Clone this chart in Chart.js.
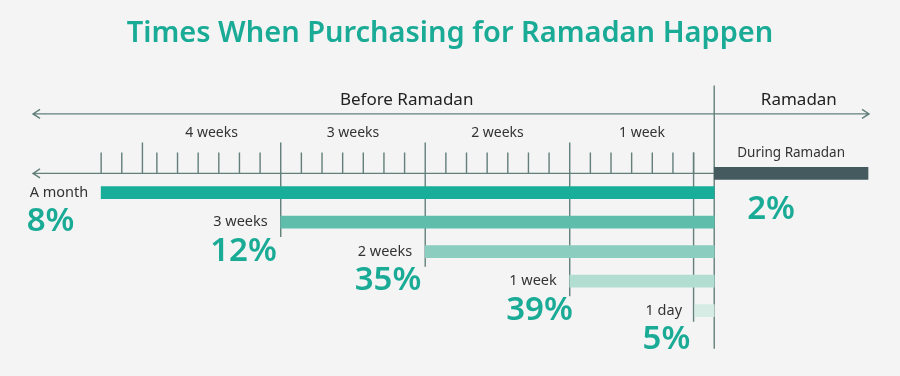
<!DOCTYPE html>
<html>
<head>
<meta charset="utf-8">
<script src="https://cdn.jsdelivr.net/npm/chart.js@4"></script>
<style>
  body { margin: 0; background: #f4f4f4; }
  #wrap { width: 900px; height: 376px; }
</style>
</head>
<body>
<div id="wrap"><canvas id="myChart"></canvas></div>
<script>
// days relative to the start of Ramadan (0), negative = before
const rowLabels = ['A month', '3 weeks', '2 weeks', '1 week', '1 day'];
const startDays = [-29.7, -21, -14, -7, -0.93];
const endDays = [0, 0, 0, 0, 0];
const shares = [8, 12, 35, 39, 5];
const rows = [0, 1, 2, 3, 4];

const ramadanLabel = 'During Ramadan';
const ramadanSpan = [0, 7.45];
const ramadanShare = 2;
const ramadanRow = -0.65;

const weekLabels = ['4 weeks', '3 weeks', '2 weeks', '1 week'];
const weekBounds = [-27.7, -21, -14, -7, 0];
const dayTicks = [-29.7, -28.7, -27, -26, -25, -24, -23, -22, -20, -19, -18, -17, -16, -15,
  -13, -12, -11, -10, -9, -8, -6, -5, -4, -3, -2, -1];

const barColors = ['#19ae99', '#5fbdab', '#8bcdbf', '#b2ddd1', '#d5ece5'];
const teal = '#1aab96';
const lineColor = '#627f7a';
const textColor = '#333333';

const barData = rows.map(function (r, i) {
    return { x: [startDays[i], endDays[i]], y: r };
});
barData.push({ x: ramadanSpan, y: ramadanRow });

const timeline = {
    id: 'timeline',
    beforeDatasetsDraw(chart) {
        const ctx = chart.ctx;
        const xs = chart.scales.x, ys = chart.scales.y;
        const X = v => xs.getPixelForValue(v);
        const axisY = ys.getPixelForValue(ramadanRow);
        const topY = axisY - 59.5;
        ctx.save();
        ctx.strokeStyle = lineColor;
        ctx.lineWidth = 1.4;

        // upper arrow: before / during Ramadan
        const left = X(-33), right = X(7.5);
        ctx.beginPath();
        ctx.moveTo(left, topY); ctx.lineTo(right, topY);
        ctx.moveTo(left + 7, topY - 4.5); ctx.lineTo(left, topY); ctx.lineTo(left + 7, topY + 4.5);
        ctx.moveTo(right - 7, topY - 4.5); ctx.lineTo(right, topY); ctx.lineTo(right - 7, topY + 4.5);
        ctx.stroke();

        // lower day axis
        ctx.beginPath();
        ctx.moveTo(left, axisY); ctx.lineTo(X(0), axisY);
        ctx.moveTo(left + 7, axisY - 4.5); ctx.lineTo(left, axisY); ctx.lineTo(left + 7, axisY + 4.5);
        ctx.stroke();

        // day ticks
        ctx.beginPath();
        dayTicks.forEach(function (d) {
            ctx.moveTo(X(d), axisY - 21); ctx.lineTo(X(d), axisY);
        });
        // 4 weeks mark
        ctx.moveTo(X(weekBounds[0]), axisY - 31); ctx.lineTo(X(weekBounds[0]), axisY);
        ctx.stroke();

        // week boundaries drop to their bars
        ctx.beginPath();
        [1, 2, 3].forEach(function (k) {
            const px = X(weekBounds[k]);
            ctx.moveTo(px, axisY - 31); ctx.lineTo(px, ys.getPixelForValue(rows[k]) + 15);
        });
        ctx.moveTo(X(-1), axisY - 21); ctx.lineTo(X(-1), ys.getPixelForValue(rows[4]) + 11);
        // Ramadan start line
        ctx.moveTo(X(0), axisY - 88); ctx.lineTo(X(0), ys.getPixelForValue(rows[4]) + 38);
        ctx.stroke();
        ctx.restore();
    },
    afterDatasetsDraw(chart) {
        const ctx = chart.ctx;
        const xs = chart.scales.x, ys = chart.scales.y;
        const X = v => xs.getPixelForValue(v);
        const axisY = ys.getPixelForValue(ramadanRow);
        ctx.save();
        ctx.textBaseline = 'middle';

        ctx.fillStyle = '#222';
        ctx.font = '17px "Noto Sans"';
        ctx.textAlign = 'center';
        ctx.fillText('Before Ramadan', X(-14.9), axisY - 73);
        ctx.fillText('Ramadan', X(4.1), axisY - 73);

        ctx.fillStyle = textColor;
        ctx.font = '14px "Noto Sans"';
        weekLabels.forEach(function (w, i) {
            ctx.fillText(w, X((weekBounds[i] + weekBounds[i + 1]) / 2), axisY - 40);
        });
        ctx.font = '13.5px "Noto Sans"';
        ctx.fillText(ramadanLabel, X((ramadanSpan[0] + ramadanSpan[1]) / 2), axisY - 20);

        rows.forEach(function (r, i) {
            const py = ys.getPixelForValue(r);
            const right = X(startDays[i]) - 13;
            ctx.font = '14.5px "Noto Sans"';
            ctx.fillStyle = textColor;
            ctx.textAlign = 'right';
            ctx.fillText(rowLabels[i], right, py);
            const w = ctx.measureText(rowLabels[i]).width;
            ctx.font = '600 33px "Noto Sans"';
            ctx.fillStyle = teal;
            ctx.textAlign = 'left';
            ctx.fillText(shares[i] + '%', right - w - 3, py + 29);
        });
        ctx.font = '600 33px "Noto Sans"';
        ctx.fillStyle = teal;
        ctx.textAlign = 'left';
        ctx.fillText(ramadanShare + '%', X(1.6), axisY + 36);
        ctx.restore();
    }
};

const config = {
    type: 'bar',
    data: {
        datasets: [{
            data: barData,
            backgroundColor: barColors.concat(['#455a5f']),
            borderWidth: 0,
            barThickness: 12,
            borderSkipped: false
        }]
    },
    options: {
        indexAxis: 'y',
        responsive: true,
        maintainAspectRatio: false,
        animation: false,
        layout: { padding: 0 },
        scales: {
            x: { type: 'linear', min: -34.6, max: 9.0, display: false, offset: false },
            y: { type: 'linear', min: -4.398, max: 6.214, reverse: true, display: false, offset: false }
        },
        plugins: {
            legend: { display: false },
            tooltip: { enabled: false },
            title: {
                display: true,
                text: 'Times When Purchasing for Ramadan Happen',
                color: teal,
                font: { family: 'Noto Sans', size: 29, weight: 600 },
                padding: { top: 16, bottom: 12 }
            }
        }
    },
    plugins: [timeline]
};

const myChart = new Chart(document.getElementById('myChart'), config);
</script>
</body>
</html>
